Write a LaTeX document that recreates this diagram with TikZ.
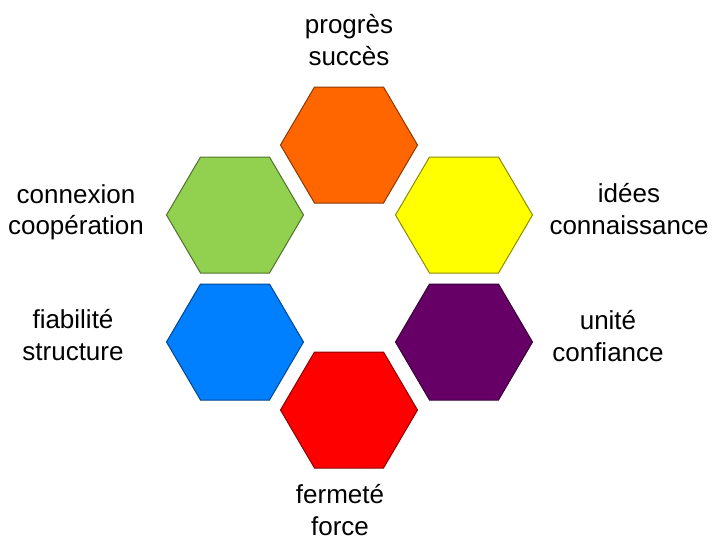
\documentclass[tikz,border=0pt]{standalone}
\usepackage{fontspec}
\setmainfont{Liberation Sans}
\usetikzlibrary{positioning}
\definecolor{hexorange}{HTML}{FF6600}
\definecolor{hexyellow}{HTML}{FFFF00}
\definecolor{hexgreen}{HTML}{92D050}
\definecolor{hexblue}{HTML}{0080FF}
\definecolor{hexpurple}{HTML}{660066}
\definecolor{hexred}{HTML}{FF0000}
\tikzstyle{hexa} = [
    line width=0.75pt,
    line join=miter
]
\tikzstyle{word} = [
    align=center,
    inner sep=0pt,
    font=\fontsize{19.5pt}{23.5pt}\selectfont,
    text=black
]
\begin{document}
\begin{tikzpicture}[x=0.75pt, y=-0.75pt]
    \useasboundingbox (0,0) rectangle (726,546);

    % Hexagons
    \foreach \name/\cx/\cy/\col in {orange/349/145/hexorange, green/235/215/hexgreen,
        yellow/464/215/hexyellow, blue/235/342/hexblue,
        purple/464/342/hexpurple, red/349/410/hexred} {
        \begin{scope}[shift={(\cx,\cy)}]
            \draw [hexa, fill=\col, draw=\col!55!black]
                (-68.5,0) -- (-34.5,-58) -- (34.5,-58) -- (68.5,0)
                -- (34.5,58) -- (-34.5,58) -- cycle;
            \coordinate (\name) at (0,0);
        \end{scope}
    }

    % Labels
    \node (progres) [word] at (349,40) {progrès\\succès};
    \node (connexion) [word] at (76,212) {connexion\\coopération};
    \node (idees) [word] at (629,209) {idées\\connaissance};
    \node (fiabilite) [word] at (73,335) {fiabilité\\structure};
    \node (unite) [word] at (608,336) {unité\\confiance};
    \node (fermete) [word] at (340,510) {fermeté\\force};

\end{tikzpicture}
\end{document}
